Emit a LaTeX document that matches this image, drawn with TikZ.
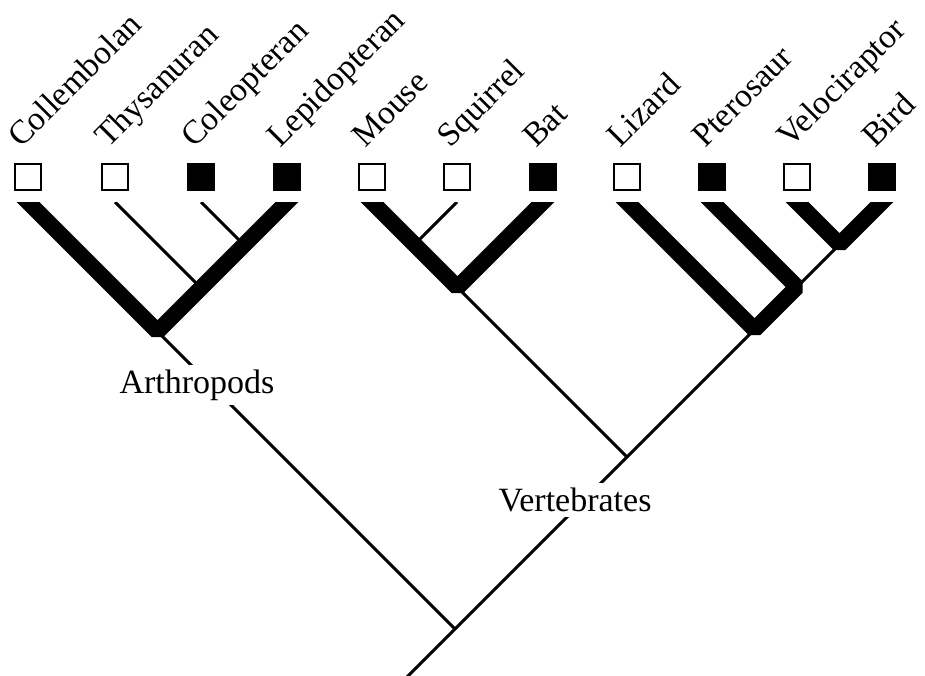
\documentclass[tikz,border=0pt]{standalone}
\usepackage{fontspec}
\setmainfont{Liberation Serif}
\tikzset{
  leaf/.style={draw, line width=2.7pt, minimum size=26pt, inner sep=0pt},
  leafon/.style={leaf, fill=black},
  leafoff/.style={leaf, fill=white},
  taxon/.style={rotate=45, anchor=base west, inner sep=0pt, font=\fontsize{33.5}{38}\selectfont},
  clade/.style={fill=white, inner sep=5pt, font=\fontsize{34}{40}\selectfont},
  thickbr/.style={line width=16pt, line join=bevel, shorten <=-12pt, shorten >=-12pt},
  thinbr/.style={line width=3pt}
}
\begin{document}
\begin{tikzpicture}[x=1pt, y=-1pt]
\useasboundingbox (0,0) rectangle (925,675);
\fill[white] (0,0) rectangle (925,675);
% Ô vuông, tên loài và đầu nhánh
\foreach \x/\name/\st [count=\i] in {28/Collembolan/leafoff, 115/Thysanuran/leafoff,
  201/Coleopteran/leafon, 287/Lepidopteran/leafon, 372/Mouse/leafoff, 457/Squirrel/leafoff,
  543/Bat/leafon, 627/Lizard/leafoff, 712/Pterosaur/leafon, 797/Velociraptor/leafoff,
  882/Bird/leafon}
{
  \node[\st] (sq\i) at (\x,177) {};
  \node[taxon] (lab\i) at (\x-7,149) {\name};
  \coordinate (t\i) at (\x,202);
}
% Các điểm phân nhánh
\coordinate (arth) at (157.5,331.5);
\coordinate (thys) at (201,288);
\coordinate (cole) at (244,245);
\coordinate (mamm) at (457.5,287.5);
\coordinate (squi) at (414.5,244.5);
\coordinate (rept) at (754.5,329.5);
\coordinate (ptero) at (797,287);
\coordinate (dino) at (839.5,244.5);
\coordinate (vert) at (627,457);
\coordinate (root) at (455,629);
\coordinate (base) at (404,680);
% Vẽ cây
\begin{scope}
\clip (0,202) rectangle (925,675);
\draw[thickbr] (t1) -- (arth) -- (t4);
\draw[thinbr] (t2) -- (thys) (t3) -- (cole);
\draw[thickbr] (t5) -- (mamm) -- (t7);
\draw[thinbr] (t6) -- (squi);
\draw[thickbr] (t9) -- (ptero) -- (rept) -- (t8);
\draw[thickbr] (t10) -- (dino) -- (t11);
\draw[thinbr] (ptero) -- (dino);
\draw[thinbr] (arth) -- (root) (mamm) -- (vert);
\draw[thinbr] (rept) -- (vert) -- (root) -- (base);
\end{scope}
% Tên nhóm
\node[clade] (arthlab) at (197,385) {Arthropods};
\node[clade] (vertlab) at (575,500) {Vertebrates};
\end{tikzpicture}
\end{document}
